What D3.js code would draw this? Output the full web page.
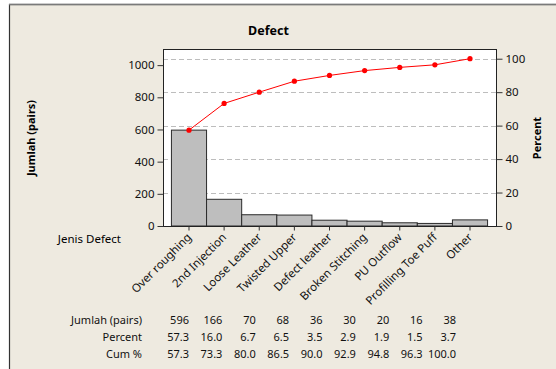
<!DOCTYPE html>
<html>
<head>
<meta charset="utf-8">
<script src="https://cdn.jsdelivr.net/npm/d3@7"></script>
<style>
  html, body { margin: 0; padding: 0; background: #fff; }
  svg { display: block; font-family: "Noto Sans", sans-serif; }
</style>
</head>
<body>
<div class="canvas"></div>
<script>
// pareto data
const categories = ["Over roughing", "2nd Injection", "Loose Leather", "Twisted Upper",
  "Defect leather", "Broken Stitching", "PU Outflow", "Profilling Toe Puff", "Other"];
const counts = [596, 166, 70, 68, 36, 30, 20, 16, 38];
const percents = ["57.3", "16.0", "6.7", "6.5", "3.5", "2.9", "1.9", "1.5", "3.7"];
const cumPercents = ["57.3", "73.3", "80.0", "86.5", "90.0", "92.9", "94.8", "96.3", "100.0"];
const countTicks = [0, 200, 400, 600, 800, 1000];
const percentTicks = [0, 20, 40, 60, 80, 100];

const width = 556, height = 369;
const plot = { left: 163, right: 496, top: 49, bottom: 226 };
const total = d3.sum(counts);
const yMax = total * 1.058;

const svg = d3.select(".canvas").append("svg")
  .attr("width", width)
  .attr("height", height);

// beige frame
svg.append("rect")
  .attr("x", 9.5).attr("y", 4.5)
  .attr("width", width).attr("height", height)
  .attr("fill", "#eeeae0")
  .attr("stroke", "#333").attr("stroke-width", 1.2);
svg.append("line")
  .attr("x1", 9).attr("x2", width).attr("y1", 4.5).attr("y2", 4.5)
  .attr("stroke", "#7a7a7a").attr("stroke-width", 1.5);

const x = d3.scaleBand()
  .domain(categories)
  .range([plot.left, plot.right])
  .paddingInner(0)
  .paddingOuter(0.24);

const y = d3.scaleLinear()
  .domain([0, yMax])
  .range([plot.bottom, plot.top]);

const yPct = d3.scaleLinear()
  .domain([0, 100 * yMax / total])
  .range([plot.bottom, plot.top]);

svg.append("rect")
  .attr("x", plot.left).attr("y", plot.top)
  .attr("width", plot.right - plot.left).attr("height", plot.bottom - plot.top)
  .attr("fill", "#fff");

// dashed gridlines on the percent ticks
svg.append("g")
  .selectAll("line")
  .data(percentTicks.filter(d => d > 0))
  .join("line")
    .attr("x1", plot.left).attr("x2", plot.right)
    .attr("y1", d => Math.round(yPct(d)) + 0.5)
    .attr("y2", d => Math.round(yPct(d)) + 0.5)
    .attr("stroke", "#bdbdbd")
    .attr("stroke-dasharray", "5,3");

// bars
svg.append("g")
  .selectAll("rect")
  .data(counts)
  .join("rect")
    .attr("x", (d, i) => x(categories[i]))
    .attr("y", d => y(d))
    .attr("width", x.bandwidth())
    .attr("height", d => y(0) - y(d))
    .attr("fill", "#bebebe")
    .attr("stroke", "#2b2b2b")
    .attr("stroke-width", 1);

// cumulative line
let run = 0;
const cum = counts.map(c => (run += c));
const line = d3.line()
  .x((d, i) => x(categories[i]) + x.bandwidth() / 2)
  .y(d => y(d));

svg.append("path")
  .datum(cum)
  .attr("d", line)
  .attr("fill", "none")
  .attr("stroke", "#ff0000")
  .attr("stroke-width", 1);

svg.append("g")
  .selectAll("circle")
  .data(cum)
  .join("circle")
    .attr("cx", (d, i) => x(categories[i]) + x.bandwidth() / 2)
    .attr("cy", d => y(d))
    .attr("r", 2.6)
    .attr("fill", "#ff0000");

// plot box
svg.append("rect")
  .attr("x", plot.left + 0.5).attr("y", plot.top + 0.5)
  .attr("width", plot.right - plot.left).attr("height", plot.bottom - plot.top)
  .attr("fill", "none")
  .attr("stroke", "#222");

// axes
const left = svg.append("g")
  .attr("transform", `translate(${plot.left + 0.5},0)`)
  .call(d3.axisLeft(y).tickValues(countTicks).tickFormat(d3.format("d"))
    .tickSize(6).tickSizeOuter(0).tickPadding(3));
const right = svg.append("g")
  .attr("transform", `translate(${plot.right + 0.5},0)`)
  .call(d3.axisRight(yPct).tickValues(percentTicks).tickSize(6).tickSizeOuter(0).tickPadding(3));
const bottom = svg.append("g")
  .attr("transform", `translate(0,${plot.bottom + 0.5})`)
  .call(d3.axisBottom(x).tickSize(4).tickSizeOuter(0).tickFormat(""));

[left, right, bottom].forEach(g => {
  g.select(".domain").remove();
  g.selectAll("line").attr("stroke", "#333");
  g.selectAll("text").attr("font-size", 11.5).attr("fill", "#111")
    .attr("font-family", "Noto Sans, sans-serif");
});

// rotated category labels
svg.append("g")
  .selectAll("text")
  .data(categories)
  .join("text")
    .attr("transform", d => `translate(${x(d) + x.bandwidth() / 2 + 3},${plot.bottom + 12}) rotate(-45)`)
    .attr("text-anchor", "end")
    .attr("font-size", 11.5)
    .attr("fill", "#111")
    .text(d => d);

// titles
svg.append("text")
  .attr("x", 268.5).attr("y", 35)
  .attr("text-anchor", "middle")
  .attr("font-size", 12.5).attr("font-weight", "bold")
  .text("Defect");

svg.append("text")
  .attr("transform", "translate(35,138) rotate(-90)")
  .attr("text-anchor", "middle")
  .attr("font-size", 11).attr("font-weight", "bold")
  .text("Jumlah (pairs)");

svg.append("text")
  .attr("transform", "translate(541,138) rotate(-90)")
  .attr("text-anchor", "middle")
  .attr("font-size", 11).attr("font-weight", "bold")
  .text("Percent");

svg.append("text")
  .attr("x", 121).attr("y", 243)
  .attr("text-anchor", "end")
  .attr("font-size", 11.5)
  .text("Jenis Defect");

// table under the chart
const col = d3.scaleLinear().domain([0, categories.length - 1]).range([189, 456]);
const rows = [
  { label: "Jumlah (pairs)", values: counts.map(String), y: 324 },
  { label: "Percent", values: percents, y: 341 },
  { label: "Cum %", values: cumPercents, y: 357.5 }
];
const table = svg.append("g").attr("font-size", 11).attr("fill", "#111");
rows.forEach(r => {
  table.append("text")
    .attr("x", 142).attr("y", r.y)
    .attr("text-anchor", "end")
    .text(r.label);
  table.append("g")
    .selectAll("text")
    .data(r.values)
    .join("text")
      .attr("x", (d, i) => col(i))
      .attr("y", r.y)
      .attr("text-anchor", "end")
      .text(d => d);
});
</script>
</body>
</html>
